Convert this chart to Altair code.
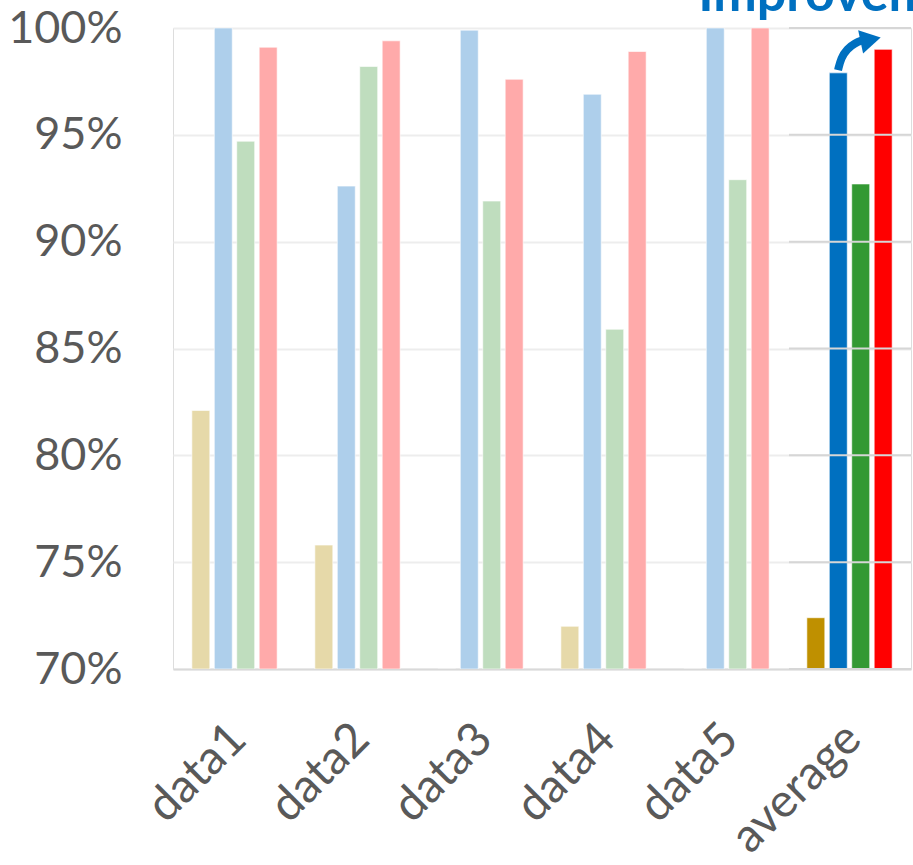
import altair as alt
import pandas as pd

categories = ["data1", "data2", "data3", "data4", "data5", "average"]
series_names = ["s1", "s2", "s3", "s4"]
s1 = [82.1, 75.8, 68.0, 72.0, 68.0, 72.4]
s2 = [100.0, 92.6, 99.9, 96.9, 100.0, 97.9]
s3 = [94.7, 98.2, 91.9, 85.9, 92.9, 92.7]
s4 = [99.1, 99.4, 97.6, 98.9, 100.0, 99.0]
y_ticks = [70, 75, 80, 85, 90, 95, 100]

light_colors = ["#E6D9A9", "#AECFEB", "#BFDDBE", "#FFAAAA"]
dark_colors = ["#BF9000", "#0070C0", "#339933", "#FF0000"]

# annotation arrow path (category-index units, percent)
arrow_x = [5.407, 5.431, 5.48, 5.545, 5.61]
arrow_y = [98.03, 98.6, 99.02, 99.3, 99.44]
head_x = [5.672]
head_y = [99.45]
note_text = ["Improvement"]
note_x = [4.27]
note_y = [100.8]
grid_x = [5.008, 6.0]

vals = [s1, s2, s3, s4]
rows = []
for i, c in enumerate(categories):
    for j, s in enumerate(series_names):
        rows.append(dict(cat=c, series=s, value=vals[j][i],
                         color=(dark_colors[j] if c == "average" else light_colors[j])))
df = pd.DataFrame(rows)

arrow_df = pd.DataFrame({"ax": arrow_x, "ay": arrow_y, "o": list(range(len(arrow_x)))})
head_df = pd.DataFrame({"ax": head_x, "ay": head_y})
note_df = pd.DataFrame({"ax": note_x, "ay": note_y, "t": note_text})
grid_df = pd.DataFrame({"ay": y_ticks, "x1": [grid_x[0]] * len(y_ticks), "x2": [grid_x[1]] * len(y_ticks)})

W, H = 738, 641
FONT = "Lato"
GREY = "#595959"

yscale = alt.Scale(domain=[70, 100], zero=False, nice=False)
yaxis = alt.Axis(values=y_ticks, title=None, labelExpr="datum.value + '%'",
                 labelFontSize=45, labelFont=FONT, labelColor=GREY, domain=False,
                 ticks=False, gridColor="#EDEDED", gridWidth=2, labelPadding=51)

bars = alt.Chart(df).mark_bar(clip=True, stroke="white", strokeOpacity=0.6, strokeWidth=1).encode(
    x=alt.X("cat:N", sort=categories,
            scale=alt.Scale(paddingInner=0.27, paddingOuter=0.135),
            axis=alt.Axis(title=None, labelAngle=-45, labelFontSize=47, labelFont=FONT,
                          labelColor=GREY, ticks=False, domain=True, domainColor="#D9D9D9",
                          domainWidth=2, labelPadding=46, labelOffset=-12, grid=False)),
    xOffset=alt.XOffset("series:N", sort=series_names,
                        scale=alt.Scale(paddingInner=0.2, paddingOuter=0.1)),
    y=alt.Y("value:Q", scale=yscale, axis=yaxis),
    y2=alt.datum(70),
    color=alt.Color("color:N", scale=None),
)

qx = alt.Scale(domain=[0, 6], nice=False, zero=False)

grid_rules = alt.Chart(grid_df).mark_rule(color="#D6D6D6", strokeWidth=2).encode(
    x=alt.X("x1:Q", scale=qx, axis=None),
    x2="x2:Q",
    y=alt.Y("ay:Q", scale=yscale, axis=None),
)

arrow_line = alt.Chart(arrow_df).mark_line(color="#0070C0", strokeWidth=8, interpolate="basis", clip=False).encode(
    x=alt.X("ax:Q", scale=qx, axis=None),
    y=alt.Y("ay:Q", scale=yscale, axis=None),
    order="o:Q",
)

arrow_head = alt.Chart(head_df).mark_point(shape="triangle-right", filled=True, opacity=1,
                                           color="#0070C0", size=560, angle=348, clip=False).encode(
    x=alt.X("ax:Q", scale=qx, axis=None),
    y=alt.Y("ay:Q", scale=yscale, axis=None),
)

note = alt.Chart(note_df).mark_text(font=FONT, fontSize=52, fontWeight="bold", color="#0070C0",
                                    align="left", baseline="alphabetic", clip=False).encode(
    x=alt.X("ax:Q", scale=qx, axis=None),
    y=alt.Y("ay:Q", scale=yscale, axis=None),
    text="t:N",
)

overlay = alt.layer(grid_rules, arrow_line, arrow_head, note)

chart = alt.layer(bars, overlay).resolve_scale(x="independent").resolve_axis(
    x="independent", y="independent"
).properties(
    width=W, height=H,
    autosize=alt.AutoSizeParams(type="none"),
    padding={"left": 173, "top": 28, "right": 2, "bottom": 196},
).configure_view(strokeWidth=0, stroke="transparent").configure_axis(
    domain=False
).configure(background="white")

chart.save("out.html", embed_options={"renderer": "svg", "actions": False})
